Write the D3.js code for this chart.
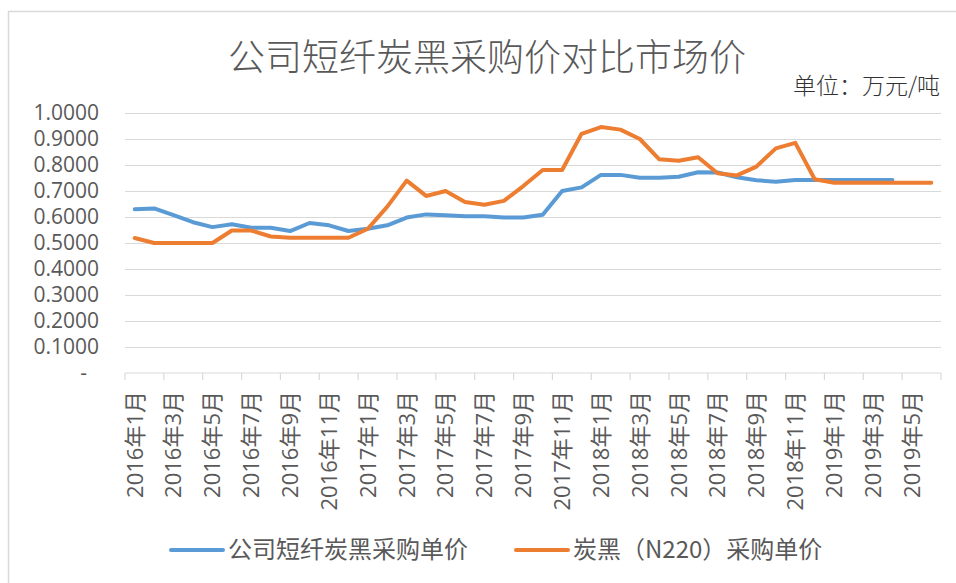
<!DOCTYPE html>
<html>
<head>
<meta charset="utf-8">
<script src="https://cdn.jsdelivr.net/npm/d3@7"></script>
<style>
  html, body { margin: 0; padding: 0; background: #fff; }
  #chart-container { width: 956px; height: 583px; overflow: hidden; }
</style>
</head>
<body>
<div id="chart-container"></div>
<script>
// Данные графика
const months = [
  '2016年1月', '2016年2月', '2016年3月', '2016年4月', '2016年5月', '2016年6月',
  '2016年7月', '2016年8月', '2016年9月', '2016年10月', '2016年11月', '2016年12月',
  '2017年1月', '2017年2月', '2017年3月', '2017年4月', '2017年5月', '2017年6月',
  '2017年7月', '2017年8月', '2017年9月', '2017年10月', '2017年11月', '2017年12月',
  '2018年1月', '2018年2月', '2018年3月', '2018年4月', '2018年5月', '2018年6月',
  '2018年7月', '2018年8月', '2018年9月', '2018年10月', '2018年11月', '2018年12月',
  '2019年1月', '2019年2月', '2019年3月', '2019年4月', '2019年5月', '2019年6月'
];

// 公司短纤炭黑采购单价 (ends 2019年4月)
const companyPrice = [
  0.630, 0.633, 0.607, 0.580, 0.561, 0.572, 0.559, 0.559, 0.546, 0.577, 0.568, 0.546,
  0.555, 0.568, 0.598, 0.610, 0.607, 0.603, 0.603, 0.598, 0.598, 0.609, 0.700, 0.714,
  0.762, 0.762, 0.751, 0.751, 0.755, 0.772, 0.771, 0.753, 0.741, 0.736, 0.742, 0.742,
  0.742, 0.742, 0.742, 0.742
];

// 炭黑（N220）采购单价
const marketPrice = [
  0.519, 0.500, 0.500, 0.500, 0.500, 0.548, 0.548, 0.525, 0.520, 0.520, 0.520, 0.520,
  0.555, 0.640, 0.740, 0.681, 0.700, 0.658, 0.647, 0.662, 0.719, 0.781, 0.781, 0.920,
  0.946, 0.936, 0.900, 0.822, 0.816, 0.830, 0.768, 0.760, 0.794, 0.864, 0.885, 0.745,
  0.732, 0.732, 0.732, 0.732, 0.732, 0.732
];

const yTicks = [0, 0.1, 0.2, 0.3, 0.4, 0.5, 0.6, 0.7, 0.8, 0.9, 1.0];
const seriesNames = ['公司短纤炭黑采购单价', '炭黑（N220）采购单价'];
const chartTitle = '公司短纤炭黑采购价对比市场价';
const unitLabel = '单位：万元/吨';

var ChartModule = (function() {
  'use strict';

  const width = 956;
  const height = 583;
  const plot = { left: 125, right: 941, top: 113, bottom: 373 };
  const colors = ['#5B9BD5', '#ED7D31'];
  const gridColor = '#d9d9d9';
  const textColor = '#595959';
  const latinFont = '"Open Sans", "Noto Sans CJK SC", sans-serif';
  const cjkFont = '"Noto Sans CJK SC", sans-serif';

  /**
   * Нарисовать весь график
   */
  function draw() {
    const svg = d3.select('#chart-container')
      .append('svg')
      .attr('width', width)
      .attr('height', height);

    // Рамка области диаграммы
    svg.append('rect')
      .attr('x', 8.5)
      .attr('y', 11.5)
      .attr('width', 980)
      .attr('height', 620)
      .attr('fill', '#fff')
      .attr('stroke', gridColor)
      .attr('stroke-width', 1.5);

    const x = d3.scaleBand()
      .domain(months)
      .range([plot.left, plot.right])
      .padding(0);

    const y = d3.scaleLinear()
      .domain([0, 1])
      .range([plot.bottom, plot.top]);

    // Сетка
    svg.append('g')
      .attr('transform', `translate(${plot.left},0)`)
      .call(d3.axisLeft(y).tickValues(yTicks.slice(1)).tickSize(-(plot.right - plot.left)).tickFormat(''))
      .call(g => g.select('.domain').remove())
      .call(g => g.selectAll('line').attr('stroke', gridColor).attr('stroke-width', 1.2));

    // Подписи оси Y
    svg.append('g')
      .attr('transform', `translate(99,0)`)
      .call(d3.axisLeft(y).tickValues(yTicks).tickSize(0).tickPadding(0)
        .tickFormat(d => d === 0 ? '-' : d3.format('.4f')(d)))
      .call(g => g.select('.domain').remove())
      .call(g => g.selectAll('text')
        .attr('fill', textColor)
        .style('font-family', latinFont)
        .style('font-size', '21px')
        .filter(d => d === 0)
        .attr('x', -12));

    // Ось X: линия и отметки между категориями
    const xAxis = svg.append('g');
    xAxis.append('line')
      .attr('x1', plot.left)
      .attr('x2', plot.right)
      .attr('y1', y(0))
      .attr('y2', y(0))
      .attr('stroke', gridColor)
      .attr('stroke-width', 1.2);

    const tickPos = months.filter((m, i) => i % 2 === 0).map(m => x(m)).concat([x.range()[1]]);
    xAxis.selectAll('line.tick-mark')
      .data(tickPos)
      .join('line')
      .attr('class', 'tick-mark')
      .attr('x1', d => d)
      .attr('x2', d => d)
      .attr('y1', y(0))
      .attr('y2', y(0) + 7)
      .attr('stroke', gridColor)
      .attr('stroke-width', 1.2);

    // Подписи оси X (каждый второй месяц)
    svg.append('g')
      .attr('transform', `translate(0,${y(0)})`)
      .call(d3.axisBottom(x).tickValues(months.filter((m, i) => i % 2 === 0)).tickSize(0))
      .call(g => g.select('.domain').remove())
      .call(g => g.selectAll('text')
        .attr('fill', textColor)
        .style('font-family', latinFont)
        .style('font-size', '22px')
        .attr('transform', 'rotate(-90)')
        .attr('text-anchor', 'end')
        .attr('x', -18)
        .attr('y', 0)
        .attr('dy', '0.36em'));

    // Линии рядов
    const line = d3.line()
      .x((d, i) => x(months[i]) + x.bandwidth() / 2)
      .y(d => y(d));

    [companyPrice, marketPrice].forEach((values, k) => {
      svg.append('path')
        .datum(values)
        .attr('fill', 'none')
        .attr('stroke', colors[k])
        .attr('stroke-width', 4)
        .attr('stroke-linejoin', 'round')
        .attr('stroke-linecap', 'round')
        .attr('d', line);
    });

    // Заголовок
    svg.append('text')
      .attr('x', 487)
      .attr('y', 71)
      .attr('text-anchor', 'middle')
      .attr('fill', textColor)
      .style('font-family', cjkFont)
      .style('font-weight', 300)
      .style('font-size', '37px')
      .text(chartTitle);

    // Единицы измерения
    svg.append('text')
      .attr('x', 940)
      .attr('y', 94)
      .attr('text-anchor', 'end')
      .attr('fill', '#333')
      .style('font-family', cjkFont)
      .style('font-weight', 300)
      .style('font-size', '23px')
      .text(unitLabel);

    // Легенда
    const legendItems = [
      { x: 169, name: seriesNames[0], color: colors[0] },
      { x: 514, name: seriesNames[1], color: colors[1] }
    ];
    const legend = svg.append('g').attr('transform', 'translate(0,550)');
    legendItems.forEach(item => {
      legend.append('line')
        .attr('x1', item.x + 2)
        .attr('x2', item.x + 54)
        .attr('y1', 0)
        .attr('y2', 0)
        .attr('stroke', item.color)
        .attr('stroke-width', 4)
        .attr('stroke-linecap', 'round');
      legend.append('text')
        .attr('x', item.x + 59)
        .attr('y', 0)
        .attr('dy', '0.35em')
        .attr('fill', textColor)
        .style('font-family', cjkFont)
        .style('font-size', '24px')
        .text(item.name);
    });
  }

  return {
    draw: draw
  };
})();

ChartModule.draw();
</script>
</body>
</html>
